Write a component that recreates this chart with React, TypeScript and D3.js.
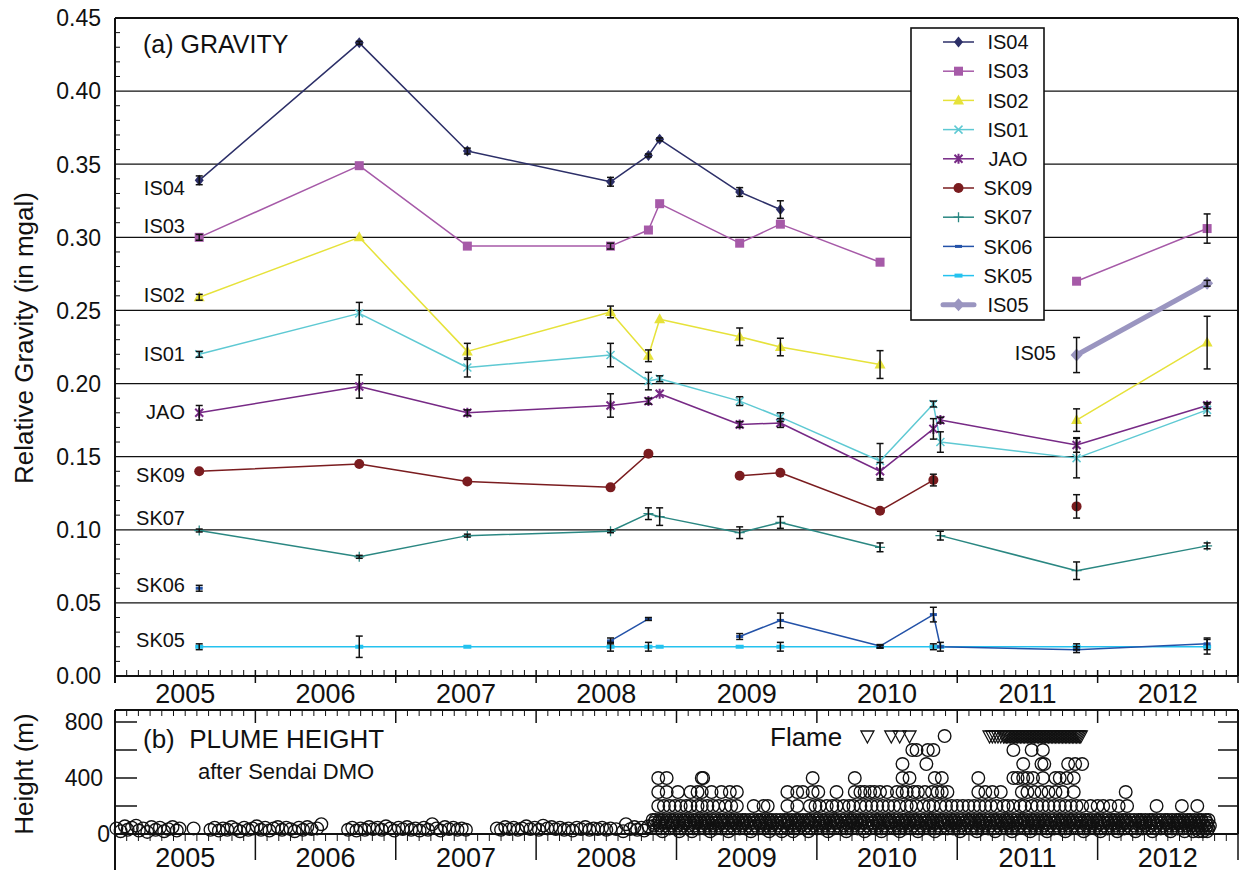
import React from 'react';
import * as d3 from 'd3';

const FONT = '"Liberation Sans", Arial, Helvetica, sans-serif';

// ---------- (a) gravity data ----------
const surveyDates = [2005.60, 2006.74, 2007.51, 2008.53, 2008.80, 2008.88, 2009.45, 2009.74, 2010.45, 2010.83, 2010.88, 2011.85, 2012.78];

const is04 = [0.339, 0.433, 0.359, 0.338, 0.356, 0.367, 0.331, 0.319, null, null, null, null, null];
const is04Err = [0.003, 0.001, 0.002, 0.003, 0.001, 0.001, 0.003, 0.006, 0, 0, 0, 0, 0];
const is03 = [0.300, 0.349, 0.294, 0.294, 0.305, 0.323, 0.296, 0.309, 0.283, null, null, 0.270, 0.306];
const is03Err = [0.002, 0, 0, 0.002, 0, 0, 0, 0, 0, 0, 0, 0, 0.010];
const is02 = [0.259, 0.300, 0.222, 0.249, 0.219, 0.244, 0.232, 0.225, 0.213, null, null, 0.175, 0.228];
const is02Err = [0.002, 0, 0.0055, 0.004, 0.004, 0, 0.006, 0.006, 0.0095, 0, 0, 0.0077, 0.018];
const is01 = [0.220, 0.248, 0.211, 0.2195, 0.2017, 0.2033, 0.188, 0.177, 0.147, 0.186, 0.160, 0.149, 0.182];
const is01Err = [0.002, 0.0075, 0.0065, 0.008, 0.006, 0.002, 0.003, 0.003, 0.012, 0.002, 0.007, 0.0135, 0.004];
const jao = [0.180, 0.198, 0.180, 0.185, 0.188, 0.193, 0.172, 0.173, 0.140, 0.169, 0.175, 0.158, 0.185];
const jaoErr = [0.005, 0.008, 0.002, 0.008, 0.002, 0, 0.002, 0.003, 0.006, 0.007, 0.002, 0.005, 0.002];
const sk09 = [0.140, 0.145, 0.133, 0.129, 0.152, null, 0.137, 0.139, 0.113, 0.134, null, 0.116, null];
const sk09Err = [0, 0, 0, 0, 0, 0, 0, 0, 0, 0.004, 0, 0.008, 0];
const sk07 = [0.0995, 0.0815, 0.096, 0.099, 0.111, 0.109, 0.098, 0.105, 0.088, null, 0.096, 0.072, 0.089];
const sk07Err = [0.001, 0.001, 0.001, 0.001, 0.004, 0.006, 0.004, 0.004, 0.003, 0, 0.003, 0.006, 0.002];
const sk06 = [0.060, null, null, 0.024, 0.039, null, 0.027, 0.038, 0.0205, 0.042, 0.020, 0.018, 0.022];
const sk06Err = [0.002, 0, 0, 0.002, 0.001, 0, 0.002, 0.005, 0.001, 0.005, 0.003, 0.002, 0.004];
const sk05 = [0.020, 0.020, 0.020, 0.020, 0.020, 0.020, 0.020, 0.020, 0.020, 0.020, 0.020, 0.020, 0.020];
const sk05Err = [0.002, 0.0073, 0, 0.003, 0.003, 0, 0, 0.003, 0.001, 0.002, 0, 0.002, 0.005];
const is05 = [null, null, null, null, null, null, null, null, null, null, null, 0.2195, 0.2686];
const is05Err = [0, 0, 0, 0, 0, 0, 0, 0, 0, 0, 0, 0.012, 0.002];

// label anchors (gravity value at which each station name sits)
const stationNames = ['IS04', 'IS03', 'IS02', 'IS01', 'JAO', 'SK09', 'SK07', 'SK06', 'SK05'];
const stationLabelValues = [0.334, 0.308, 0.261, 0.2206, 0.1805, 0.1378, 0.1084, 0.0626, 0.025];
const is05LabelValue = 0.221;

const gravityTicks = [0, 0.05, 0.10, 0.15, 0.20, 0.25, 0.30, 0.35, 0.40, 0.45];
const gravityGrid = [0.05, 0.10, 0.15, 0.20, 0.25, 0.30, 0.35, 0.40];
const yearLabels = [2005, 2006, 2007, 2008, 2009, 2010, 2011, 2012];

// ---------- (b) plume height data ----------
const plumeEarly: [number, number][] = [
  [2005.01, 40], [2005.04, 20], [2005.07, 55], [2005.09, 30], [2005.12, 45], [2005.15, 60], [2005.17, 25], [2005.20, 40],
  [2005.23, 15], [2005.26, 50], [2005.29, 30], [2005.32, 45], [2005.35, 20], [2005.38, 35], [2005.41, 50], [2005.44, 25], [2005.46, 40],
  [2005.56, 40],
  [2005.68, 30], [2005.71, 45], [2005.74, 25], [2005.77, 40], [2005.80, 30], [2005.83, 50], [2005.86, 35], [2005.89, 20],
  [2005.92, 45], [2005.95, 30], [2005.98, 40], [2006.01, 55], [2006.04, 30], [2006.07, 45], [2006.10, 25], [2006.13, 40],
  [2006.16, 50], [2006.19, 30], [2006.22, 45], [2006.25, 35], [2006.28, 20], [2006.31, 45], [2006.34, 30], [2006.37, 50],
  [2006.40, 35], [2006.44, 40], [2006.47, 70],
  [2006.66, 30], [2006.69, 45], [2006.72, 25], [2006.75, 40], [2006.78, 30], [2006.81, 50], [2006.84, 35], [2006.87, 45],
  [2006.90, 30], [2006.93, 55], [2006.96, 40], [2006.99, 25], [2007.02, 45], [2007.05, 35], [2007.08, 50], [2007.11, 30],
  [2007.14, 40], [2007.17, 25], [2007.20, 45], [2007.23, 30], [2007.26, 70], [2007.29, 40], [2007.32, 25], [2007.35, 50],
  [2007.38, 35], [2007.41, 45], [2007.44, 30], [2007.47, 40], [2007.50, 30],
  [2007.72, 40], [2007.75, 30], [2007.78, 50], [2007.81, 35], [2007.84, 45], [2007.87, 30], [2007.90, 40], [2007.93, 55],
  [2007.96, 35], [2007.99, 45], [2008.02, 30], [2008.05, 60], [2008.08, 40], [2008.11, 50], [2008.14, 35], [2008.17, 45],
  [2008.20, 30], [2008.23, 40], [2008.26, 25], [2008.29, 45], [2008.32, 35], [2008.35, 50], [2008.38, 30], [2008.41, 40],
  [2008.44, 35], [2008.47, 45], [2008.50, 30], [2008.53, 40], [2008.57, 35],
  [2008.62, 20], [2008.64, 70], [2008.67, 35], [2008.70, 50], [2008.72, 30], [2008.75, 45], [2008.77, 25], [2008.80, 55],
];
const plume700 = [2010.91];
const plume600 = [2010.68, 2010.71, 2010.79, 2010.83, 2011.40, 2011.53, 2011.61];
const plume500 = [2010.61, 2010.78, 2011.47, 2011.60, 2011.62, 2011.79, 2011.84, 2011.89];
const plume400 = [2008.87, 2008.93, 2009.18, 2009.19, 2009.97, 2010.27, 2010.61, 2010.66, 2010.84, 2010.89, 2011.15,
  2011.40, 2011.43, 2011.47, 2011.50, 2011.54, 2011.61, 2011.70, 2011.73, 2011.78, 2011.83];
const plume300 = [2008.87, 2008.93, 2009.01, 2009.10, 2009.15, 2009.18, 2009.25, 2009.32, 2009.38, 2009.43, 2009.79,
  2009.86, 2009.90, 2009.97, 2010.01, 2010.14, 2010.27, 2010.31, 2010.34, 2010.38, 2010.41, 2010.45, 2010.50, 2010.57,
  2010.61, 2010.64, 2010.69, 2010.72, 2010.77, 2010.82, 2010.86, 2010.89, 2010.93, 2011.15, 2011.20, 2011.25, 2011.31,
  2011.46, 2011.50, 2011.55, 2011.60, 2011.65, 2011.70, 2011.75, 2011.83, 2012.20];
const plume200 = [2008.87, 2008.91, 2008.95, 2008.99, 2009.03, 2009.07, 2009.10, 2009.15, 2009.18, 2009.22, 2009.26,
  2009.30, 2009.35, 2009.39, 2009.43, 2009.55, 2009.62, 2009.65, 2009.79, 2009.86, 2009.95, 2009.99, 2010.02, 2010.07,
  2010.11, 2010.14, 2010.19, 2010.23, 2010.26, 2010.31, 2010.35, 2010.39, 2010.43, 2010.47, 2010.51, 2010.55, 2010.59,
  2010.64, 2010.67, 2010.71, 2010.76, 2010.80, 2010.83, 2010.88, 2010.92, 2010.96, 2011.00, 2011.04, 2011.08, 2011.12,
  2011.16, 2011.20, 2011.24, 2011.28, 2011.33, 2011.36, 2011.40, 2011.45, 2011.48, 2011.53, 2011.57, 2011.61, 2011.65,
  2011.69, 2011.73, 2011.77, 2011.81, 2011.85, 2011.89, 2011.95, 2012.00, 2012.04, 2012.09, 2012.15, 2012.21, 2012.42,
  2012.60, 2012.71];
const plume100 = [2008.83, 2008.85, 2008.88, 2008.90, 2008.93, 2008.96, 2008.98, 2009.01, 2009.04, 2009.06, 2009.09,
  2009.12, 2009.14, 2009.17, 2009.20, 2009.22, 2009.25, 2009.28, 2009.31, 2009.33, 2009.36, 2009.39, 2009.41, 2009.44,
  2009.47, 2009.49, 2009.52, 2009.55, 2009.58, 2009.60, 2009.63, 2009.66, 2009.68, 2009.71, 2009.74, 2009.77, 2009.79,
  2009.82, 2009.85, 2009.87, 2009.90, 2009.93, 2009.95, 2009.98, 2010.01, 2010.04, 2010.06, 2010.09, 2010.12, 2010.14,
  2010.17, 2010.20, 2010.23, 2010.25, 2010.28, 2010.31, 2010.33, 2010.36, 2010.39, 2010.42, 2010.44, 2010.47, 2010.50,
  2010.52, 2010.55, 2010.58, 2010.61, 2010.63, 2010.66, 2010.69, 2010.71, 2010.74, 2010.77, 2010.80, 2010.82, 2010.85,
  2010.88, 2010.90, 2010.93, 2010.96, 2010.98, 2011.01, 2011.04, 2011.07, 2011.09, 2011.12, 2011.15, 2011.17, 2011.20,
  2011.23, 2011.26, 2011.28, 2011.31, 2011.34, 2011.36, 2011.39, 2011.42, 2011.45, 2011.47, 2011.50, 2011.53, 2011.55,
  2011.58, 2011.61, 2011.63, 2011.66, 2011.69, 2011.72, 2011.74, 2011.77, 2011.80, 2011.82, 2011.85, 2011.88, 2011.91,
  2011.93, 2011.96, 2011.99, 2012.01, 2012.04, 2012.07, 2012.10, 2012.12, 2012.15, 2012.18, 2012.20, 2012.23, 2012.26,
  2012.29, 2012.31, 2012.34, 2012.37, 2012.39, 2012.42, 2012.45, 2012.48, 2012.50, 2012.53, 2012.56, 2012.58, 2012.61,
  2012.64, 2012.66, 2012.69, 2012.72, 2012.74, 2012.77, 2012.79];
const plume80 = [2008.84, 2008.87, 2008.89, 2008.92, 2008.94, 2008.97, 2008.99, 2009.02, 2009.05, 2009.07, 2009.10,
  2009.13, 2009.15, 2009.18, 2009.21, 2009.23, 2009.26, 2009.29, 2009.32, 2009.34, 2009.37, 2009.40, 2009.42, 2009.45,
  2009.48, 2009.50, 2009.53, 2009.56, 2009.59, 2009.61, 2009.64, 2009.67, 2009.69, 2009.72, 2009.75, 2009.78, 2009.80,
  2009.83, 2009.86, 2009.88, 2009.91, 2009.94, 2009.96, 2009.99, 2010.02, 2010.05, 2010.07, 2010.10, 2010.13, 2010.15,
  2010.18, 2010.21, 2010.24, 2010.26, 2010.29, 2010.32, 2010.34, 2010.37, 2010.40, 2010.43, 2010.45, 2010.48, 2010.51,
  2010.53, 2010.56, 2010.59, 2010.62, 2010.64, 2010.67, 2010.70, 2010.72, 2010.75, 2010.78, 2010.81, 2010.83, 2010.86,
  2010.89, 2010.91, 2010.94, 2010.97, 2010.99, 2011.02, 2011.05, 2011.08, 2011.10, 2011.13, 2011.16, 2011.18, 2011.21,
  2011.24, 2011.27, 2011.29, 2011.32, 2011.35, 2011.37, 2011.40, 2011.43, 2011.46, 2011.48, 2011.51, 2011.54, 2011.56,
  2011.59, 2011.62, 2011.64, 2011.67, 2011.70, 2011.73, 2011.75, 2011.78, 2011.81, 2011.83, 2011.86, 2011.89, 2011.92,
  2011.94, 2011.97, 2012.00, 2012.02, 2012.05, 2012.08, 2012.11, 2012.13, 2012.16, 2012.19, 2012.21, 2012.24, 2012.27,
  2012.30, 2012.32, 2012.35, 2012.38, 2012.40, 2012.43, 2012.46, 2012.49, 2012.51, 2012.54, 2012.57, 2012.59, 2012.62,
  2012.65, 2012.67, 2012.70, 2012.73, 2012.75, 2012.78];
const plume60 = [2008.84, 2008.88, 2008.92, 2008.97, 2009.01, 2009.05, 2009.09, 2009.13, 2009.18, 2009.22, 2009.26,
  2009.30, 2009.34, 2009.39, 2009.43, 2009.47, 2009.51, 2009.56, 2009.60, 2009.64, 2009.68, 2009.72, 2009.77, 2009.81,
  2009.85, 2009.89, 2009.93, 2009.98, 2010.02, 2010.06, 2010.10, 2010.15, 2010.19, 2010.23, 2010.27, 2010.31, 2010.36,
  2010.40, 2010.44, 2010.48, 2010.53, 2010.57, 2010.61, 2010.65, 2010.69, 2010.74, 2010.78, 2010.82, 2010.86, 2010.91,
  2010.95, 2010.99, 2011.03, 2011.07, 2011.12, 2011.16, 2011.20, 2011.24, 2011.29, 2011.33, 2011.37, 2011.41, 2011.45,
  2011.50, 2011.54, 2011.58, 2011.62, 2011.66, 2011.71, 2011.75, 2011.79, 2011.83, 2011.88, 2011.92, 2011.96, 2012.00,
  2012.04, 2012.09, 2012.13, 2012.17, 2012.21, 2012.26, 2012.30, 2012.34, 2012.38, 2012.42, 2012.47, 2012.51, 2012.55,
  2012.59, 2012.63, 2012.67, 2012.70, 2012.73, 2012.76, 2012.78, 2012.80];
const plume40 = [2008.86, 2008.89, 2008.95, 2008.99, 2009.03, 2009.08, 2009.12, 2009.16, 2009.20, 2009.24, 2009.28,
  2009.32, 2009.36, 2009.41, 2009.45, 2009.49, 2009.54, 2009.58, 2009.62, 2009.67, 2009.70, 2009.74, 2009.79, 2009.84,
  2009.87, 2009.91, 2009.96, 2010.00, 2010.04, 2010.08, 2010.12, 2010.17, 2010.21, 2010.25, 2010.29, 2010.33, 2010.38,
  2010.42, 2010.46, 2010.50, 2010.55, 2010.59, 2010.63, 2010.67, 2010.72, 2010.76, 2010.80, 2010.84, 2010.88, 2010.93,
  2010.97, 2011.01, 2011.05, 2011.10, 2011.14, 2011.18, 2011.22, 2011.26, 2011.31, 2011.35, 2011.39, 2011.43, 2011.48,
  2011.52, 2011.56, 2011.60, 2011.64, 2011.69, 2011.73, 2011.77, 2011.81, 2011.86, 2011.90, 2011.94, 2011.98, 2012.02,
  2012.07, 2012.11, 2012.15, 2012.19, 2012.24, 2012.28, 2012.32, 2012.36, 2012.41, 2012.45, 2012.49, 2012.53, 2012.57,
  2012.61, 2012.65, 2012.68, 2012.71, 2012.74, 2012.77, 2012.79];
const plume20 = [2008.90, 2009.02, 2009.11, 2009.24, 2009.37, 2009.53, 2009.66, 2009.75, 2009.83, 2009.94, 2010.08,
  2010.21, 2010.34, 2010.46, 2010.59, 2010.72, 2010.84, 2011.02, 2011.14, 2011.27, 2011.39, 2011.52, 2011.64, 2011.77,
  2011.90, 2012.02, 2012.14, 2012.27, 2012.39, 2012.52, 2012.62, 2012.68, 2012.72, 2012.75, 2012.78];
const flameDates = [2010.36, 2010.53, 2010.59, 2010.66,
  2011.23, 2011.25, 2011.27, 2011.29, 2011.31, 2011.33, 2011.34, 2011.35, 2011.36, 2011.37, 2011.38, 2011.39, 2011.40,
  2011.41, 2011.42, 2011.43, 2011.44, 2011.45, 2011.46, 2011.47, 2011.48, 2011.49, 2011.50, 2011.51, 2011.52, 2011.53,
  2011.54, 2011.55, 2011.56, 2011.57, 2011.58, 2011.59, 2011.60, 2011.61, 2011.62, 2011.63, 2011.64, 2011.65, 2011.66,
  2011.67, 2011.68, 2011.69, 2011.70, 2011.71, 2011.72, 2011.73, 2011.74, 2011.75, 2011.76, 2011.77, 2011.78, 2011.79,
  2011.80, 2011.81, 2011.82, 2011.83, 2011.84, 2011.85, 2011.86, 2011.87, 2011.88];
const flameLevel = 700;
const heightTickMarks = [200, 400, 600, 800];
const heightTickLabels = [0, 400, 800];

// ---------- layout ----------
const L = 115, R = 1238;
const gTop = 18, gBot = 676;
const hTop = 710, hBot = 834;

const x = d3.scaleLinear().domain([2005, 2013]).range([L, R]);
const yG = d3.scaleLinear().domain([0, 0.45]).range([gBot, gTop]);
const yH = d3.scaleLinear().domain([0, 800]).range([hBot, 722]);

type MarkerKind = 'diamond' | 'bigdiamond' | 'square' | 'triangle' | 'x' | 'star' | 'circle' | 'plus' | 'dash' | 'bar';

const series = [
  { name: 'IS04', values: is04, errors: is04Err, color: '#2c2f68', marker: 'diamond' as MarkerKind, width: 1.5 },
  { name: 'IS03', values: is03, errors: is03Err, color: '#a65aa8', marker: 'square' as MarkerKind, width: 1.5 },
  { name: 'IS02', values: is02, errors: is02Err, color: '#e6e23a', marker: 'triangle' as MarkerKind, width: 1.5 },
  { name: 'IS01', values: is01, errors: is01Err, color: '#5ec9d3', marker: 'x' as MarkerKind, width: 1.5 },
  { name: 'JAO', values: jao, errors: jaoErr, color: '#772a86', marker: 'star' as MarkerKind, width: 1.5 },
  { name: 'SK09', values: sk09, errors: sk09Err, color: '#7a1c1f', marker: 'circle' as MarkerKind, width: 1.5 },
  { name: 'SK07', values: sk07, errors: sk07Err, color: '#2a8782', marker: 'plus' as MarkerKind, width: 1.5 },
  { name: 'SK06', values: sk06, errors: sk06Err, color: '#2352a8', marker: 'dash' as MarkerKind, width: 1.5 },
  { name: 'SK05', values: sk05, errors: sk05Err, color: '#24c2ef', marker: 'bar' as MarkerKind, width: 1.5 },
  { name: 'IS05', values: is05, errors: is05Err, color: '#9a95c0', marker: 'bigdiamond' as MarkerKind, width: 5 },
];

function Marker({ kind, cx, cy, color }: { kind: MarkerKind; cx: number; cy: number; color: string }) {
  switch (kind) {
    case 'diamond':
      return <path d={`M${cx},${cy - 5.5}L${cx + 4.5},${cy}L${cx},${cy + 5.5}L${cx - 4.5},${cy}Z`} fill={color} />;
    case 'bigdiamond':
      return <path d={`M${cx},${cy - 6.5}L${cx + 6},${cy}L${cx},${cy + 6.5}L${cx - 6},${cy}Z`} fill={color} />;
    case 'square':
      return <rect x={cx - 4.5} y={cy - 4.5} width={9} height={9} fill={color} />;
    case 'triangle':
      return <path d={`M${cx},${cy - 6}L${cx + 5.5},${cy + 4}L${cx - 5.5},${cy + 4}Z`} fill={color} />;
    case 'x':
      return <path d={`M${cx - 4},${cy - 4}L${cx + 4},${cy + 4}M${cx - 4},${cy + 4}L${cx + 4},${cy - 4}`} stroke={color} strokeWidth={1.5} />;
    case 'star':
      return <path d={`M${cx - 4},${cy - 4}L${cx + 4},${cy + 4}M${cx - 4},${cy + 4}L${cx + 4},${cy - 4}M${cx},${cy - 5}L${cx},${cy + 5}`} stroke={color} strokeWidth={2} />;
    case 'circle':
      return <circle cx={cx} cy={cy} r={5} fill={color} />;
    case 'plus':
      return <path d={`M${cx - 5},${cy}L${cx + 5},${cy}M${cx},${cy - 5}L${cx},${cy + 5}`} stroke={color} strokeWidth={1.3} />;
    case 'dash':
      return <rect x={cx - 3.5} y={cy - 1.5} width={7} height={3} fill={color} />;
    case 'bar':
      return <rect x={cx - 4} y={cy - 2} width={8} height={4} fill={color} />;
  }
  return null;
}

export default function App() {
  const months = d3.range(0, 97).map((m) => 2005 + m / 12);
  const minorG = d3.range(1, 45).filter((k) => k % 5 !== 0).map((k) => k / 100);
  const fmt = d3.format('.2f');

  const lineGen = d3
    .line<number | null>()
    .defined((v) => v != null)
    .x((_, i) => x(surveyDates[i]))
    .y((v) => yG(v as number));

  const drawOrder = [8, 7, 6, 5, 4, 3, 2, 1, 0, 9];

  const circle = (key: string, yr: number, h: number) => (
    <circle key={key} cx={x(yr)} cy={yH(h)} r={6.3} fill="none" stroke="#111" strokeWidth={1.35} />
  );

  const legendY0 = 42, legendStep = 29.2;

  return (
    <svg width={1245} height={873} style={{ position: 'absolute', left: 0, top: 0, fontFamily: FONT }}>
      <rect x={0} y={0} width={1245} height={873} fill="#fff" />

      {/* ===== (a) gravity panel ===== */}
      {gravityGrid.map((v) => (
        <line key={`g${v}`} x1={L} x2={R} y1={yG(v)} y2={yG(v)} stroke="#111" strokeWidth={1.3} />
      ))}
      {minorG.map((v) => (
        <line key={`mg${v}`} x1={L} x2={L + 5} y1={yG(v)} y2={yG(v)} stroke="#111" strokeWidth={1} />
      ))}
      <line x1={L} x2={R} y1={gTop} y2={gTop} stroke="#111" strokeWidth={2} />
      <line x1={L} x2={L} y1={gTop} y2={683} stroke="#111" strokeWidth={2} />
      <line x1={R} x2={R} y1={gTop} y2={gBot} stroke="#111" strokeWidth={2} />
      <line x1={L} x2={R} y1={gBot} y2={gBot} stroke="#111" strokeWidth={2} />
      {months.map((m, i) =>
        i % 12 === 0 ? (
          <line key={`xt${i}`} x1={x(m)} x2={x(m)} y1={gBot - 6} y2={683} stroke="#111" strokeWidth={1.5} />
        ) : (
          <line key={`xt${i}`} x1={x(m)} x2={x(m)} y1={gBot - 6} y2={gBot} stroke="#111" strokeWidth={1} />
        )
      )}
      {gravityTicks.map((v) => (
        <text key={`yl${v}`} x={101} y={yG(v)} dy="0.36em" textAnchor="end" fontSize={23} fill="#111">
          {fmt(v)}
        </text>
      ))}
      {yearLabels.map((yr) => (
        <text key={`xl${yr}`} x={x(yr + 0.5)} y={703} textAnchor="middle" fontSize={27} fill="#111">
          {yr}
        </text>
      ))}
      <text transform="translate(33,338) rotate(-90)" textAnchor="middle" fontSize={26} fill="#111">
        Relative Gravity (in mgal)
      </text>
      <text x={143} y={53} fontSize={25} fill="#111">(a) GRAVITY</text>

      {/* series lines */}
      {drawOrder.map((si) => {
        const s = series[si];
        return (
          <path key={`ln${s.name}`} d={lineGen(s.values) || ''} fill="none" stroke={s.color} strokeWidth={s.width} strokeLinejoin="round" />
        );
      })}
      {/* markers */}
      {drawOrder.map((si) => {
        const s = series[si];
        return (
          <g key={`mk${s.name}`}>
            {s.values.map((v, i) =>
              v == null ? null : <Marker key={i} kind={s.marker} cx={x(surveyDates[i])} cy={yG(v)} color={s.color} />
            )}
          </g>
        );
      })}
      {/* error bars */}
      {series.map((s) => (
        <g key={`eb${s.name}`} stroke="#111" strokeWidth={1.5}>
          {s.values.map((v, i) => {
            const e = s.errors[i];
            if (v == null || !e) return null;
            const cx = x(surveyDates[i]);
            const y1 = yG(v + e), y2 = yG(v - e);
            return (
              <g key={i}>
                <line x1={cx} x2={cx} y1={y1} y2={y2} />
                <line x1={cx - 3.5} x2={cx + 3.5} y1={y1} y2={y1} />
                <line x1={cx - 3.5} x2={cx + 3.5} y1={y2} y2={y2} />
              </g>
            );
          })}
        </g>
      ))}
      {/* station labels */}
      {stationNames.map((n, i) => (
        <text key={`sl${n}`} x={185} y={yG(stationLabelValues[i])} dy="0.36em" textAnchor="end" fontSize={20} fill="#111">
          {n}
        </text>
      ))}
      <text x={1056} y={yG(is05LabelValue)} dy="0.36em" textAnchor="end" fontSize={20} fill="#111">IS05</text>

      {/* legend */}
      <rect x={911} y={28} width={133} height={292} fill="#fff" stroke="#111" strokeWidth={1.6} />
      {series.map((s, i) => {
        const ly = legendY0 + i * legendStep;
        return (
          <g key={`lg${s.name}`}>
            <line x1={943} x2={974} y1={ly} y2={ly} stroke={s.color} strokeWidth={s.width} strokeLinecap={s.width > 2 ? 'round' : 'butt'} />
            <Marker kind={s.marker} cx={958.5} cy={ly} color={s.color} />
            <text x={1008} y={ly} dy="0.36em" textAnchor="middle" fontSize={20} fill="#111">{s.name}</text>
          </g>
        );
      })}

      {/* ===== (b) plume height panel ===== */}
      <line x1={L} x2={R} y1={hTop} y2={hTop} stroke="#111" strokeWidth={2} />
      <line x1={L} x2={L} y1={hTop} y2={870} stroke="#111" strokeWidth={2} />
      <line x1={R} x2={R} y1={hTop} y2={hBot} stroke="#111" strokeWidth={2} />
      <line x1={L} x2={R} y1={hBot} y2={hBot} stroke="#111" strokeWidth={2} />
      {months.map((m, i) => (
        <g key={`ht${i}`} stroke="#111">
          <line x1={x(m)} x2={x(m)} y1={hTop} y2={i % 12 === 0 ? 723 : 716} strokeWidth={i % 12 === 0 ? 1.5 : 1} />
          <line x1={x(m)} x2={x(m)} y1={hBot} y2={i % 12 === 0 ? 860 : 841} strokeWidth={i % 12 === 0 ? 1.5 : 1} />
        </g>
      ))}
      {heightTickMarks.map((h) => (
        <g key={`hm${h}`} stroke="#111" strokeWidth={1.5}>
          <line x1={L} x2={L + 22} y1={yH(h)} y2={yH(h)} />
          <line x1={R - 20} x2={R} y1={yH(h)} y2={yH(h)} />
        </g>
      ))}
      {heightTickLabels.map((h) => (
        <text key={`hl${h}`} x={h === 0 ? 110 : 103} y={yH(h)} dy="0.36em" textAnchor="end" fontSize={23} fill="#111">
          {h}
        </text>
      ))}
      {yearLabels.map((yr) => (
        <text key={`hx${yr}`} x={x(yr + 0.5)} y={867} textAnchor="middle" fontSize={27} fill="#111">
          {yr}
        </text>
      ))}
      <text transform="translate(33,774) rotate(-90)" textAnchor="middle" fontSize={26} fill="#111">
        Height (m)
      </text>
      <text x={143} y={748} fontSize={26} fill="#111">{'(b)\u00a0 PLUME HEIGHT'}</text>
      <text x={198} y={779} fontSize={22} fill="#111">after Sendai DMO</text>
      <text x={770} y={746} fontSize={26} fill="#111">Flame</text>

      {/* plume observations */}
      <g>
        {plumeEarly.map(([yr, h], i) => circle(`pe${i}`, yr, h))}
        {plume20.map((yr, i) => circle(`p20${i}`, yr, 20))}
        {plume40.map((yr, i) => circle(`p40${i}`, yr, 40))}
        {plume60.map((yr, i) => circle(`p60${i}`, yr, 60))}
        {plume80.map((yr, i) => circle(`p80${i}`, yr, 80))}
        {plume100.map((yr, i) => circle(`p100${i}`, yr, 100))}
        {plume200.map((yr, i) => circle(`p200${i}`, yr, 200))}
        {plume300.map((yr, i) => circle(`p300${i}`, yr, 300))}
        {plume400.map((yr, i) => circle(`p400${i}`, yr, 400))}
        {plume500.map((yr, i) => circle(`p500${i}`, yr, 500))}
        {plume600.map((yr, i) => circle(`p600${i}`, yr, 600))}
        {plume700.map((yr, i) => circle(`p700${i}`, yr, 700))}
      </g>
      <g fill="none" stroke="#111" strokeWidth={1.3}>
        {flameDates.map((yr, i) => {
          const cx = x(yr), cy = yH(flameLevel) + 1;
          return <path key={`fl${i}`} d={`M${cx - 6.5},${cy - 6}L${cx + 6.5},${cy - 6}L${cx},${cy + 6}Z`} />;
        })}
      </g>
    </svg>
  );
}
